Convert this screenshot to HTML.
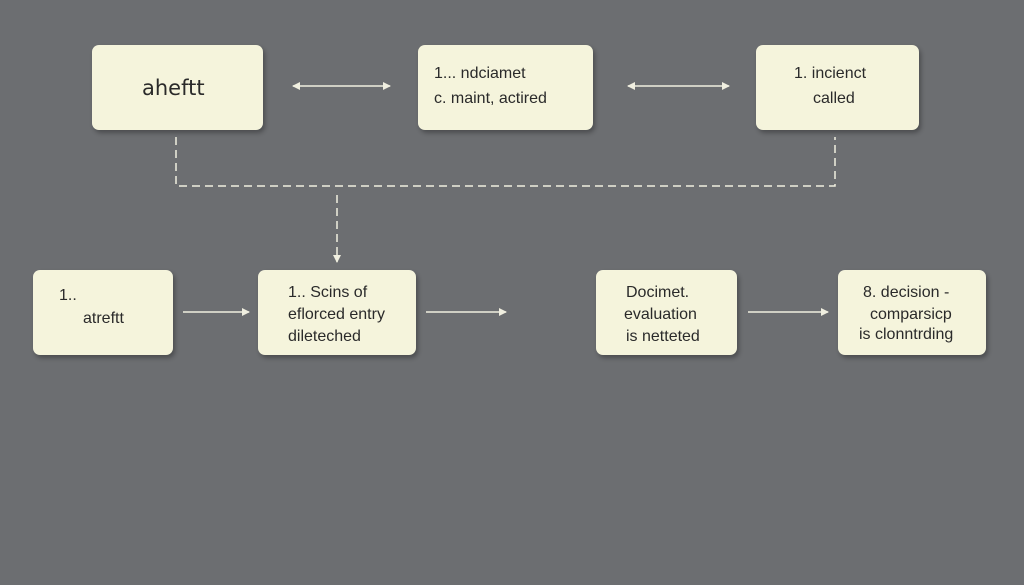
<!DOCTYPE html>
<html><head><style>
body{margin:0;width:1024px;height:585px;background:#6c6e71;overflow:hidden;position:relative;font-family:"Liberation Sans",sans-serif}
.b{position:absolute;background:#f5f4dc;border-radius:7px;box-shadow:2px 3px 5px rgba(0,0,0,.3);color:#2a2a2a;font-size:16px;line-height:22px}
.t{position:absolute}
</style></head><body>
<div class="b" style="left:92px;top:45px;width:171px;height:85px"><div class="t" style="left:50px;top:32px;font-size:21px;font-family:'DejaVu Sans',sans-serif">aheftt</div></div>
<div class="b" style="left:418px;top:45px;width:175px;height:85px"><div class="t" style="left:16px;top:18px">1... ndciamet</div><div class="t" style="left:16px;top:43px">c. maint, actired</div></div>
<div class="b" style="left:756px;top:45px;width:163px;height:85px"><div class="t" style="left:38px;top:18px">1. incienct</div><div class="t" style="left:57px;top:43px">called</div></div>
<div class="b" style="left:33px;top:270px;width:140px;height:85px"><div class="t" style="left:26px;top:15px">1..</div><div class="t" style="left:50px;top:38px">atreftt</div></div>
<div class="b" style="left:258px;top:270px;width:158px;height:85px"><div class="t" style="left:30px;top:12px">1.. Scins of</div><div class="t" style="left:30px;top:34px">eflorced entry</div><div class="t" style="left:30px;top:56px">dileteched</div></div>
<div class="b" style="left:596px;top:270px;width:141px;height:85px"><div class="t" style="left:30px;top:12px">Docimet.</div><div class="t" style="left:28px;top:34px">evaluation</div><div class="t" style="left:30px;top:56px">is netteted</div></div>
<div class="b" style="left:838px;top:270px;width:148px;height:85px"><div class="t" style="left:25px;top:12px">8. decision -</div><div class="t" style="left:32px;top:34px">comparsicp</div><div class="t" style="left:21px;top:54px">is clonntrding</div></div>
<svg width="1024" height="585" style="position:absolute;left:0;top:0">
<defs><marker id="a" markerWidth="8" markerHeight="8" refX="7" refY="4" orient="auto-start-reverse" markerUnits="userSpaceOnUse"><path d="M0,0 L8,4 L0,8z" fill="#f0efe0"/></marker></defs>
<g stroke="#f0efe0" stroke-width="1.5" fill="none">
<line x1="293" y1="86" x2="390" y2="86" marker-start="url(#a)" marker-end="url(#a)"/>
<line x1="628" y1="86" x2="729" y2="86" marker-start="url(#a)" marker-end="url(#a)"/>
<line x1="183" y1="312" x2="249" y2="312" marker-end="url(#a)"/>
<line x1="426" y1="312" x2="506" y2="312" marker-end="url(#a)"/>
<line x1="748" y1="312" x2="828" y2="312" marker-end="url(#a)"/>
<g stroke-dasharray="8,5">
<polyline points="176,137 176,186 835,186 835,137"/>
<line x1="337" y1="195" x2="337" y2="262" marker-end="url(#a)"/>
</g></g></svg>
</body></html>
